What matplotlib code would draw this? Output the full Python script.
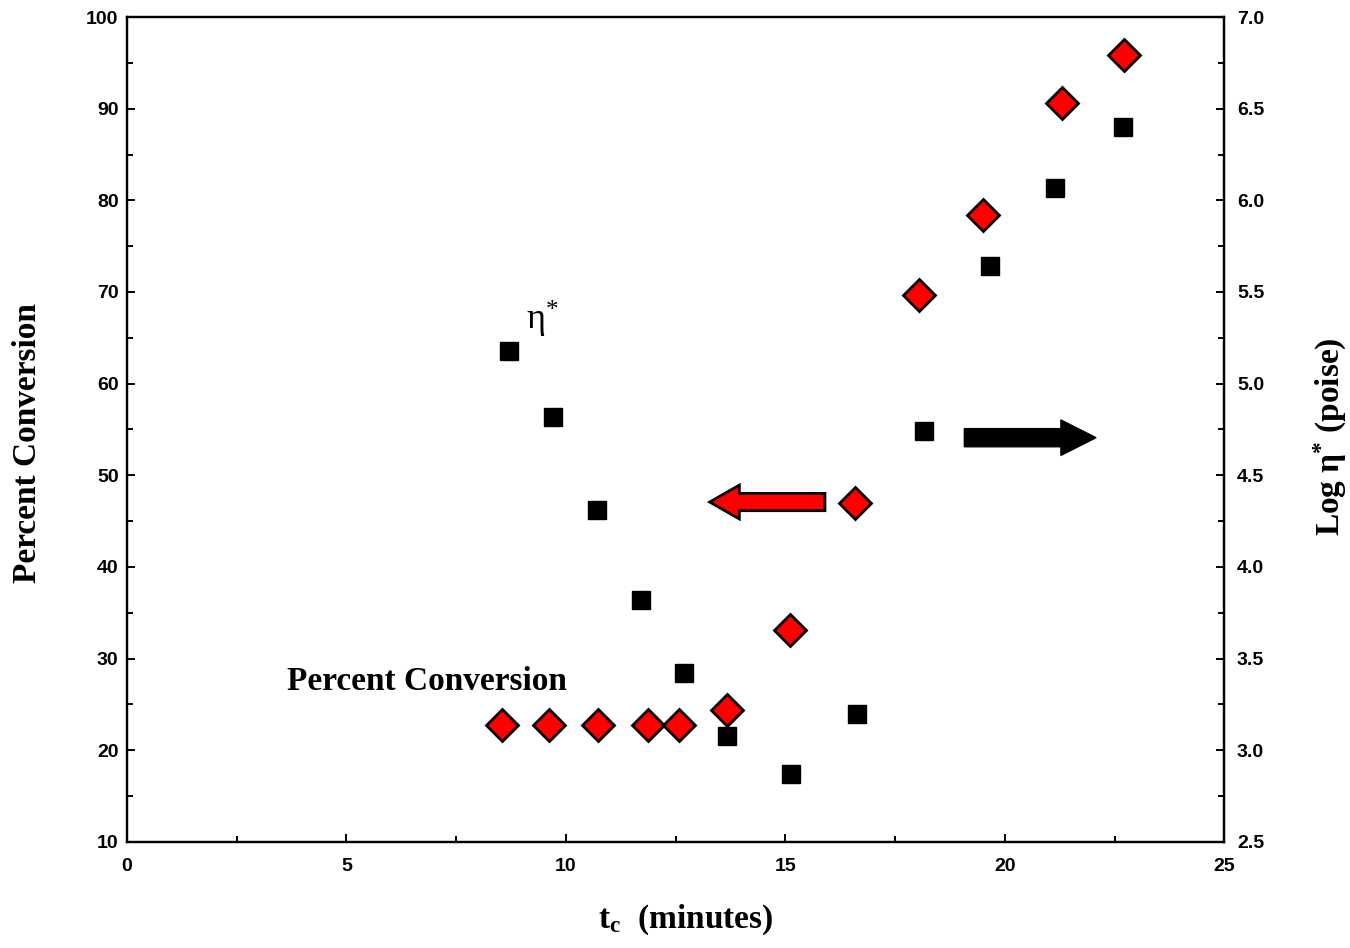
import matplotlib
matplotlib.use('Agg')
import matplotlib.pyplot as plt
from matplotlib.patches import FancyArrow
from matplotlib.ticker import MultipleLocator, FormatStrFormatter
from matplotlib.font_manager import FontProperties

# percent conversion (left axis), red diamonds
conv_t = [8.54, 9.61, 10.72, 11.86, 12.57, 13.68, 15.10, 16.58, 18.05, 19.49, 21.31, 22.72]
conv_pct = [22.7, 22.7, 22.7, 22.7, 22.7, 24.4, 33.1, 47.0, 69.7, 78.4, 90.6, 95.9]

# log complex viscosity (right axis), black squares
eta_t = [8.70, 9.70, 10.70, 11.70, 12.68, 13.68, 15.12, 16.62, 18.15, 19.67, 21.15, 22.68]
eta_log = [5.18, 4.82, 4.31, 3.82, 3.42, 3.08, 2.87, 3.20, 4.74, 5.64, 6.07, 6.40]

plt.rcParams['mathtext.fontset'] = 'custom'
plt.rcParams['mathtext.rm'] = 'Liberation Serif'
plt.rcParams['mathtext.bf'] = 'Liberation Serif:bold'
plt.rcParams['mathtext.it'] = 'Liberation Serif:italic'

tick_font = FontProperties(family='Liberation Sans', weight='bold', size=14)
label_font = dict(family='Liberation Serif', weight='bold', size=24)

fig, ax = plt.subplots(figsize=(13.5, 9.48), dpi=100)
fig.subplots_adjust(left=0.094, right=0.907, top=0.982, bottom=0.112)
ax2 = ax.twinx()

ax.plot(conv_t, conv_pct, linestyle='none', marker='D', markersize=16,
        markerfacecolor='#ff0000', markeredgecolor='black', markeredgewidth=2, zorder=3)
ax2.plot(eta_t, eta_log, linestyle='none', marker='s', markersize=13,
         markerfacecolor='black', markeredgecolor='black', zorder=3)

ax.set_xlim(0, 25)
ax.set_ylim(10, 100)
ax2.set_ylim(2.5, 7.0)

ax.xaxis.set_major_locator(MultipleLocator(5))
ax.xaxis.set_minor_locator(MultipleLocator(2.5))
ax.yaxis.set_major_locator(MultipleLocator(10))
ax.yaxis.set_minor_locator(MultipleLocator(5))
ax2.yaxis.set_major_locator(MultipleLocator(0.5))
ax2.yaxis.set_minor_locator(MultipleLocator(0.25))
ax2.yaxis.set_major_formatter(FormatStrFormatter('%.1f'))

for a in (ax, ax2):
    for s in a.spines.values():
        s.set_linewidth(1.6)
ax.tick_params(axis='both', which='both', direction='in', top=False, width=1.4)
ax.tick_params(which='major', length=6)
ax.tick_params(which='minor', length=4)
ax.tick_params(axis='y', pad=6)
ax.tick_params(axis='x', pad=12)
ax2.tick_params(axis='y', which='both', direction='in', width=1.4, pad=9)
ax2.tick_params(which='major', length=6)
ax2.tick_params(which='minor', length=4)

for lab in ax.get_xticklabels() + ax.get_yticklabels() + ax2.get_yticklabels():
    lab.set_fontproperties(tick_font)

# axis titles placed in figure pixels fractions
fig.text(28 / 1350, 1 - 443 / 948, 'Percent Conversion', rotation=90,
         ha='center', va='center', **label_font)
fig.text(1330 / 1350, 1 - 437 / 948, r'$\mathbf{Log\ \eta^{*}\ (poise)}$', rotation=90,
         ha='center', va='center', **label_font)
fig.text(686 / 1350, 1 - 920 / 948, r'$\mathbf{t_{c}}$  (minutes)',
         ha='center', va='center', **label_font)

# in-plot annotations
ax.text(0.146, 0.194, 'Percent Conversion', transform=ax.transAxes, ha='left', va='center',
        **label_font)
ax.text(0.364, 0.633, r'$\mathrm{\eta}^{*}$', transform=ax.transAxes, ha='left', va='center',
        family='Liberation Serif', size=26)

# direction arrows
ax2.add_patch(FancyArrow(0.636, 0.412, -0.078, 0, width=0.021, head_width=0.041,
                         head_length=0.027, length_includes_head=False,
                         transform=ax.transAxes, facecolor='#ff0000', edgecolor='black',
                         linewidth=2, zorder=4))
ax2.add_patch(FancyArrow(0.763, 0.490, 0.088, 0, width=0.022, head_width=0.043,
                         head_length=0.032, length_includes_head=False,
                         transform=ax.transAxes, facecolor='black', edgecolor='black',
                         linewidth=1, zorder=4))

fig.savefig('out.png', dpi=100)
